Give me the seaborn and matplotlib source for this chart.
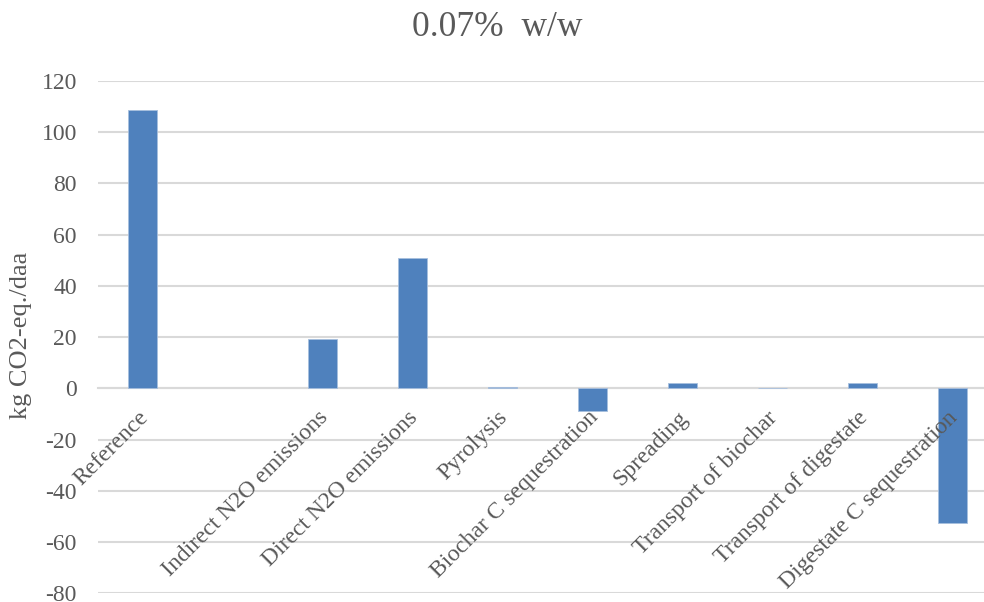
import matplotlib
matplotlib.use("Agg")
import matplotlib.pyplot as plt
import matplotlib.transforms as mtransforms
import seaborn as sns
import pandas as pd
import numpy as np

# Emission contributions per process step
categories = [
    "Reference",
    "",
    "Indirect N2O emissions",
    "Direct N2O emissions",
    "Pyrolysis",
    "Biochar C sequestration",
    "Spreading",
    "Transport of biochar",
    "Transport of digestate",
    "Digestate C sequestration",
]
values = [108.6, np.nan, 19.4, 51.1, 0.4, -8.7, 2.3, 0.3, 2.3, -52.4]
y_ticks = [-80, -60, -40, -20, 0, 20, 40, 60, 80, 100, 120]

title = "0.07%  w/w"
y_label = "kg CO2-eq./daa"

sns.set_theme(style="white")
plt.rcParams["font.family"] = ["Liberation Serif", "DejaVu Serif"]

text_color = "#595959"
grid_color = "#D9D9D9"
bar_color = "#4F81BD"

df = pd.DataFrame({"category": categories, "value": values})

fig = plt.figure(figsize=(9.84, 6.02), dpi=100)
W, H = 984, 602
left_px, right_px = 97.7, 997.7
top_px, bot_px = 81.0, 593.4
ax = fig.add_axes([left_px / W, 1 - bot_px / H,
                   (right_px - left_px) / W, (bot_px - top_px) / H])

sns.barplot(data=df, x="category", y="value", order=categories,
            color=bar_color, saturation=1, width=0.32,
            edgecolor="#A7BFDE", linewidth=0.6, ax=ax, zorder=3)

ax.set_xlim(-0.5, len(categories) - 0.5)
ax.set_ylim(-80, 120)
ax.set_yticks(y_ticks)
ax.set_yticklabels([str(t) for t in y_ticks], fontsize=17, color=text_color)
ax.yaxis.grid(True, color=grid_color, linewidth=1.5, zorder=0)
ax.set_axisbelow(True)

for side in ["left", "right", "top"]:
    ax.spines[side].set_visible(False)
ax.spines["bottom"].set_position(("data", 0))
ax.spines["bottom"].set_color(grid_color)
ax.spines["bottom"].set_linewidth(1.5)
ax.spines["bottom"].set_zorder(1)

ax.tick_params(axis="both", length=0)
ax.tick_params(axis="y", pad=15)
ax.set_xticks(range(len(categories)))
ax.set_xticklabels([])

# Category labels sit just under the zero line, drawn above the bars
offset = mtransforms.ScaledTranslation(2 / 100, -26 / 100, fig.dpi_scale_trans)
for i, name in enumerate(categories):
    ax.text(i, 0, name, transform=ax.transData + offset,
            rotation=45, ha="right", va="center", rotation_mode="anchor",
            fontsize=17, color=text_color, zorder=5, clip_on=False)

ax.set_xlabel("")
ax.set_ylabel("")
fig.text(21 / W, 1 - 335 / H, y_label, rotation=90, ha="center", va="center",
         fontsize=19, color=text_color)
fig.text(497 / W, 1 - 28 / H, title, ha="center", va="center",
         fontsize=25.5, color=text_color)

fig.savefig("out.png", dpi=100)
